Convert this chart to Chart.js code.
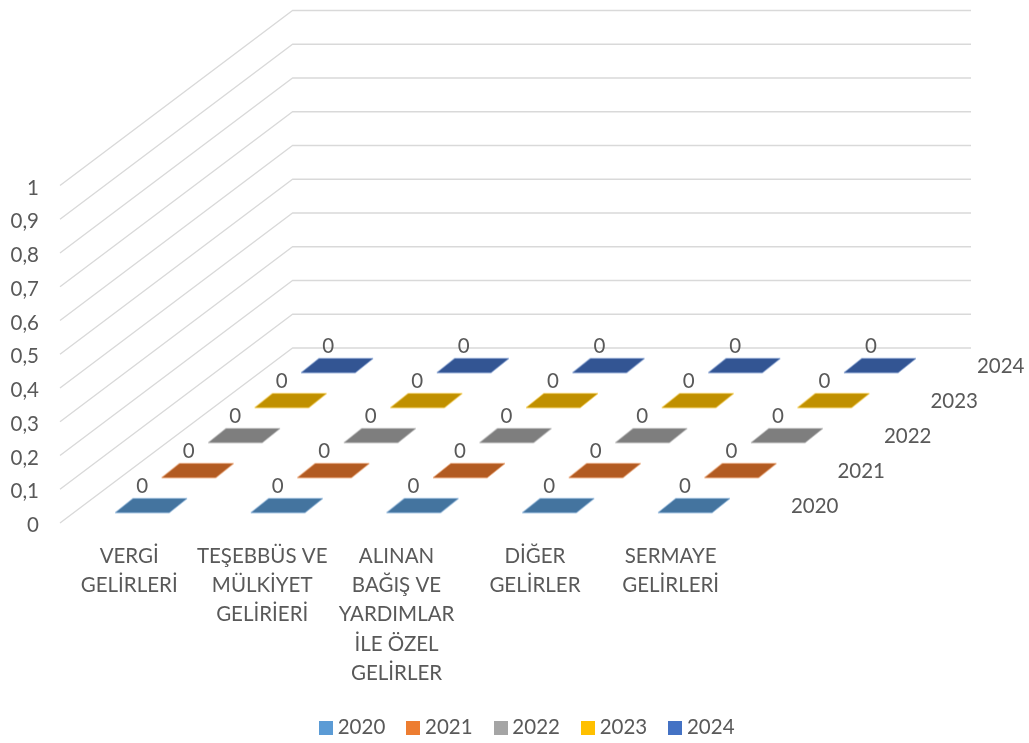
<!DOCTYPE html>
<html><head><meta charset="utf-8">
<style>html,body{margin:0;padding:0;background:#fff}canvas{display:block}</style>
<script src="https://cdn.jsdelivr.net/npm/chart.js@4/dist/chart.umd.min.js"></script>
</head><body><canvas id="c" width="1029" height="743"></canvas>
<script>
const categories = [
  ['VERGİ','GELİRLERİ'],
  ['TEŞEBBÜS VE','MÜLKİYET','GELİRİERİ'],
  ['ALINAN','BAĞIŞ VE','YARDIMLAR','İLE ÖZEL','GELİRLER'],
  ['DİĞER','GELİRLER'],
  ['SERMAYE','GELİRLERİ']
];
const categoryLabelAnchors = [0.01, 0.99, 1.98, 3, 4];
const seriesNames = ['2020','2021','2022','2023','2024'];
const values2020 = [0,0,0,0,0];
const values2021 = [0,0,0,0,0];
const values2022 = [0,0,0,0,0];
const values2023 = [0,0,0,0,0];
const values2024 = [0,0,0,0,0];
const seriesValues = [values2020,values2021,values2022,values2023,values2024];
const valueTicks = [0,0.1,0.2,0.3,0.4,0.5,0.6,0.7,0.8,0.9,1];
const legendColors = ['#5B9BD5','#ED7D31','#A5A5A5','#FFC000','#4472C4'];
const faceColors = ['#44749F','#B25B22','#7E7E7E','#C09000','#335593'];

const FONT = 'Lato, Carlito, "Open Sans", sans-serif';
const TEXT = '#595959';
const FS = 20.5;

// oblique 3D model of the plot, in pixels per unit
const PAD_RIGHT = -30, LEGEND_PAD = 26.5, PAD_BOTTOM = -5, LEGEND_H = 57;
const AREA = {left:60, right:1029, top:9, bottom:530, zero:523};
const PX_CAT = 135.7, PX_VAL = 337.5, DEPTH_DX = 46.5, DEPTH_DY = 35;
const width = AREA.right - AREA.left, height = AREA.bottom - AREA.top;
function xRange(depth){
  const min = -0.5 - depth*DEPTH_DX/PX_CAT;
  return {min, max:min + width/PX_CAT};
}
function yRange(depth){
  const min = -(AREA.bottom-AREA.zero)/PX_VAL - depth*DEPTH_DY/PX_VAL;
  return {min, max:min + height/PX_VAL};
}
function hiddenX(depth){ return Object.assign({type:'linear',display:false,position:'bottom',axis:'x'}, xRange(depth)); }
function hiddenY(depth){ return Object.assign({type:'linear',display:false,position:'left',axis:'y'}, yRange(depth)); }

function faceSprite(fill, edge){
  const c = document.createElement('canvas'); c.width = 74; c.height = 18;
  const g = c.getContext('2d');
  g.beginPath();
  g.moveTo(1,16.2); g.lineTo(18.8,1.9); g.lineTo(73,1.9); g.lineTo(55.2,16.2); g.closePath();
  g.fillStyle = fill; g.fill();
  g.globalAlpha = .55; g.lineWidth = .8; g.strokeStyle = edge; g.stroke();
  return c;
}
function swatchSprite(fill){
  const c = document.createElement('canvas'); c.width = 14; c.height = 14;
  const g = c.getContext('2d'); g.fillStyle = fill; g.fillRect(0,0,14,14);
  return c;
}

const scales = {
  x: Object.assign(xRange(0), {
    type:'linear', position:'bottom',
    grid:{display:false}, border:{display:false},
    afterBuildTicks(s){ s.ticks = categoryLabelAnchors.map(value=>({value})); },
    afterFit(s){
      s.height = 743 - PAD_BOTTOM - LEGEND_H - AREA.bottom;
      s.paddingLeft = 0; s.paddingRight = 0;
    },
    ticks:{ autoSkip:false, maxRotation:0, minRotation:0, padding:3.5, color:TEXT,
      font:{family:FONT,size:FS,lineHeight:1.43},
      callback(v,i){ return categories[i]; } }
  }),
  y: Object.assign(yRange(0), {
    type:'linear', position:'left',
    grid:{display:false}, border:{display:false},
    afterBuildTicks(s){ s.ticks = valueTicks.map(value=>({value})); },
    afterFit(s){ s.width = AREA.left; s.paddingTop = 0; s.paddingBottom = 0; },
    ticks:{ padding:13, labelOffset:2.5, color:TEXT, font:{family:FONT,size:FS},
      callback(v){ return String(v).replace('.',','); } }
  }),
  xBack: hiddenX(5),
  yBack: hiddenY(5)
};
seriesNames.forEach((n,d)=>{
  scales['x'+n] = hiddenX(d+.5);
  scales['y'+n] = hiddenY(d+.5);
});

const datasets = seriesNames.map((n,d)=>({
  label:n,
  data: seriesValues[d].map((v,i)=>({x:i,y:v})),
  xAxisID:'x'+n, yAxisID:'y'+n,
  showLine:false,
  backgroundColor:legendColors[d],
  borderColor:legendColors[d],
  pointStyle:faceSprite(faceColors[d], legendColors[d]),
  pointRadius:10, pointHoverRadius:10
}));

const wallsPlugin = {
  id:'walls',
  beforeDatasetsDraw(chart){
    const s = chart.scales, g = chart.ctx;
    g.save();
    g.strokeStyle = '#D9D9D9'; g.lineWidth = 1.4; g.lineJoin = 'round';
    valueTicks.forEach(t=>{
      g.beginPath();
      g.moveTo(s.x.getPixelForValue(-.5), s.y.getPixelForValue(t));
      g.lineTo(s.xBack.getPixelForValue(-.5), s.yBack.getPixelForValue(t));
      g.lineTo(s.xBack.getPixelForValue(categories.length-.5), s.yBack.getPixelForValue(t));
      g.stroke();
    });
    g.restore();
  }
};
const labelsPlugin = {
  id:'labels',
  afterDatasetsDraw(chart){
    const g = chart.ctx;
    g.save();
    g.font = FS+'px '+FONT;
    g.fillStyle = TEXT; g.textAlign = 'center'; g.textBaseline = 'middle';
    chart.data.datasets.forEach((ds,d)=>{
      const sx = chart.scales[ds.xAxisID], sy = chart.scales[ds.yAxisID];
      ds.data.forEach(p=>{
        g.fillText(String(p.y).replace('.',','), sx.getPixelForValue(p.x)-9, sy.getPixelForValue(p.y)-19);
      });
      g.fillText(ds.label, sx.getPixelForValue(4.89), sy.getPixelForValue(0)+1);
    });
    g.restore();
  }
};

new Chart(document.getElementById('c'),{
  type:'scatter',
  data:{datasets},
  plugins:[wallsPlugin,labelsPlugin],
  options:{
    responsive:false, animation:false,
    layout:{autoPadding:false, padding:{left:0,right:PAD_RIGHT,top:AREA.top,bottom:PAD_BOTTOM}},
    scales,
    plugins:{
      tooltip:{enabled:false},
      title:{display:false},
      legend:{
        position:'bottom',
        labels:{
          usePointStyle:true, pointStyleWidth:3, boxHeight:14, padding:LEGEND_PAD,
          color:TEXT, font:{family:FONT,size:FS},
          generateLabels(chart){
            return chart.data.datasets.map((ds,i)=>({
              text:ds.label, fontColor:TEXT, datasetIndex:i, hidden:false,
              fillStyle:ds.backgroundColor, strokeStyle:ds.backgroundColor, lineWidth:0,
              pointStyle:swatchSprite(legendColors[i])
            }));
          }
        }
      }
    }
  }
});
</script></body></html>
